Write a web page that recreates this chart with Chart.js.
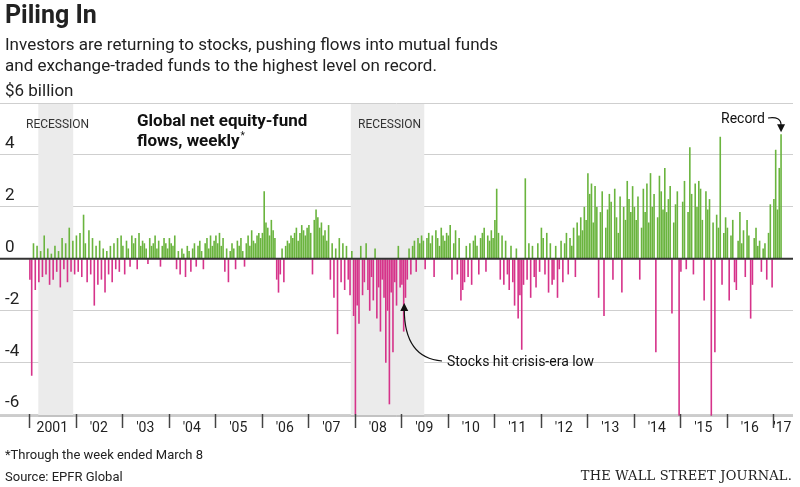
<!DOCTYPE html>
<html>
<head>
<meta charset="utf-8">
<script src="https://cdn.jsdelivr.net/npm/chart.js@4/dist/chart.umd.min.js"></script>
<style>
  body { margin: 0; background: #fff; font-family: 'Liberation Sans Narrow', 'Roboto', sans-serif; color: #222; }
  #wrap { position: relative; width: 800px; height: 487px; }
  canvas { position: absolute; left: 0; top: 0; }
  .t { position: absolute; left: 5px; white-space: nowrap; }
  #title { top: 0; font-size: 25px; font-weight: bold; }
  #sub { top: 34px; font-size: 17px; line-height: 21px; }
  #note { top: 447px; font-size: 13px; }
  #src { top: 469px; font-size: 13px; }
  #wsj { position: absolute; right: 8px; top: 468px; font-family: 'DejaVu Serif', 'Liberation Serif', serif; font-size: 13px; letter-spacing: 0.2px; }
</style>
</head>
<body>
<div id="wrap">
  <canvas id="chart" width="800" height="487"></canvas>
  <div class="t" id="title">Piling In</div>
  <div class="t" id="sub">Investors are returning to stocks, pushing flows into mutual funds<br>and exchange-traded funds to the highest level on record.</div>
  <div class="t" id="note">*Through the week ended March 8</div>
  <div class="t" id="src">Source: EPFR Global</div>
  <div id="wsj">THE WALL STREET JOURNAL.</div>
</div>
<script>
// flows, $ billion, two readings per month-ish (26 per year)
const y2001 = [-0.8,-4.5,0.6,-1.2,0.5,-0.9,0.3,-0.7,0.9,-0.6,0.4,-1.0,0.2,-0.8,0.5,-0.5,0.3,-1.1,0.8,-0.4,0.6,-0.9,1.2,-0.5,0.7,-0.6];
const y2002 = [0.9,-0.5,1.0,-0.7,1.7,0.6,-0.9,1.1,-0.6,0.8,-1.8,0.5,-1.0,0.7,-0.8,0.4,-1.3,0.3,-0.6,0.5,-0.9,0.6,-0.4,0.8,-0.5,0.9];
const y2003 = [0.5,-0.6,0.7,0.4,-0.3,0.9,0.6,0.8,-0.4,1.0,0.5,0.7,0.6,0.4,-0.2,0.8,0.5,0.6,0.9,0.4,0.7,-0.3,0.5,0.8,0.6,0.4];
const y2004 = [0.8,0.6,0.5,0.9,-0.4,0.3,-0.6,0.4,0.2,-0.7,0.5,0.3,-0.5,0.4,0.6,-0.3,0.5,0.7,0.3,-0.4,0.6,0.8,0.4,0.9,0.5,0.7];
const y2005 = [0.9,0.6,1.0,0.5,0.8,-0.5,0.4,-0.9,0.3,0.6,0.4,-0.4,0.7,0.5,0.8,0.3,-0.3,0.6,0.9,0.5,1.1,0.7,0.6,0.9,1.0,0.8];
const y2006 = [1.0,2.6,1.4,1.2,0.9,1.5,1.1,0.8,-0.8,-1.3,-0.6,0.4,-0.9,0.5,0.7,0.6,0.9,0.8,1.0,1.2,0.7,1.0,1.3,1.1,0.9,1.2];
const y2007 = [1.3,1.0,-0.6,1.5,1.9,1.6,1.2,1.4,0.9,1.1,0.7,1.3,-0.8,0.6,-1.5,0.4,-2.9,0.8,-0.9,0.6,-1.2,0.5,-0.8,-1.4,0.3,-2.2];
const y2008 = [-6.0,-1.8,-2.5,0.5,-1.4,-0.9,0.6,-1.2,-2.0,-0.7,-1.6,0.4,-2.3,-1.1,-2.8,-0.8,-1.5,-4.0,-2.0,-5.6,-1.3,-3.6,-0.9,-1.8,0.5,-1.1];
const y2009 = [-1.0,-2.8,-1.5,-0.8,0.4,-0.6,0.5,0.7,-0.5,0.8,0.6,0.9,0.7,-0.4,0.8,1.0,0.6,0.9,-0.7,1.1,0.8,0.5,1.2,0.9,0.7,1.0];
const y2010 = [0.9,1.3,-0.8,0.6,1.1,-0.6,0.8,-1.6,-1.2,-0.9,0.5,-0.7,0.6,-1.0,0.7,0.9,0.5,-0.6,0.8,1.0,1.2,-0.5,0.9,0.7,1.1,0.8];
const y2011 = [1.5,2.7,1.0,-0.8,0.9,-1.0,0.7,-0.6,-1.2,0.5,-0.9,-1.8,0.4,-2.3,-1.4,-3.5,-1.0,3.1,-0.8,0.6,-1.5,0.5,-0.7,-1.1,0.6,-0.5];
const y2012 = [1.2,0.8,-0.6,1.0,-1.3,0.6,-1.0,-0.8,0.5,-1.5,-0.4,0.7,-0.9,0.6,1.0,-0.6,0.8,0.5,1.2,-0.7,1.4,0.9,1.6,1.1,2.0,1.5];
const y2013 = [3.3,2.5,2.9,1.4,2.8,2.0,-1.5,1.8,2.6,-2.2,1.2,1.9,2.5,2.2,-0.8,2.7,1.6,1.0,2.4,-1.3,2.0,1.5,3.0,2.3,1.8,2.8];
const y2014 = [2.0,1.5,2.4,-0.8,1.2,2.7,1.8,2.9,1.4,3.3,2.0,2.5,-3.6,1.6,3.2,2.6,1.9,3.5,1.8,2.3,2.8,-2.1,1.4,2.1,2.6,-6.2];
const y2015 = [-0.5,2.2,3.0,-0.4,1.8,4.3,2.5,-0.6,2.9,2.0,3.0,2.7,1.5,-1.6,2.6,1.9,2.3,-6.2,1.4,-3.6,1.7,1.2,4.7,-1.0,1.0,1.6];
const y2016 = [1.2,-1.6,0.9,1.5,-0.9,-1.2,0.7,1.8,0.6,1.1,-0.7,1.5,0.9,-2.3,-1.0,0.8,1.2,0.5,0.7,-0.5,0.4,0.6,-0.8,1.0,2.1,-1.1];
const y2017 = [2.3,4.2,1.9,3.5,4.8];

const years = [2001,2002,2003,2004,2005,2006,2007,2008,2009,2010,2011,2012,2013,2014,2015,2016,2017];
const yearData = [y2001,y2002,y2003,y2004,y2005,y2006,y2007,y2008,y2009,y2010,y2011,y2012,y2013,y2014,y2015,y2016,y2017];
const yearLabels = ['2001',"'02","'03","'04","'05","'06","'07","'08","'09","'10","'11","'12","'13","'14","'15","'16","'17"];
const recessions = [[2001.2, 2001.95], [2007.92, 2009.5]];
const yTicks = [-6,-4,-2,0,2,4,6];
const yTickLabels = ['-6','-4','-2','0','2','4','$6 billion'];

const points = [];
years.forEach((yr, k) => {
  yearData[k].forEach((v, i) => points.push({ x: yr + (i + 0.5) / 26, y: v }));
});

const GREEN = '#6ab43e', PINK = '#d6338a';
const FONT = '"Liberation Sans Narrow", Roboto, sans-serif';

const overlay = {
  id: 'overlay',
  beforeDatasetsDraw(chart) {
    const { ctx, scales: { x, y } } = chart;
    ctx.save();
    ctx.fillStyle = '#ebebeb';
    recessions.forEach(([s, e]) => {
      const x0 = x.getPixelForValue(s), x1 = x.getPixelForValue(e);
      ctx.fillRect(x0, y.getPixelForValue(6) + 1, x1 - x0, y.getPixelForValue(-6.05) - y.getPixelForValue(6));
    });
    ctx.restore();
  },
  afterDatasetsDraw(chart) {
    const { ctx, chartArea: a, scales: { x, y } } = chart;
    ctx.save();
    // y labels, above their gridlines
    ctx.fillStyle = '#222'; ctx.font = '17px ' + FONT;
    ctx.textAlign = 'left'; ctx.textBaseline = 'bottom';
    yTicks.forEach((v, i) => ctx.fillText(yTickLabels[i], 5, y.getPixelForValue(v) - 3));
    // zero line
    ctx.strokeStyle = '#333'; ctx.lineWidth = 2;
    ctx.beginPath(); ctx.moveTo(a.left, y.getPixelForValue(0)); ctx.lineTo(a.right, y.getPixelForValue(0)); ctx.stroke();
    // bottom axis and year ticks
    const yb = a.bottom;
    ctx.strokeStyle = '#999'; ctx.lineWidth = 1;
    ctx.beginPath(); ctx.moveTo(a.left, yb); ctx.lineTo(a.right, yb); ctx.stroke();
    ctx.strokeStyle = '#444'; ctx.lineWidth = 1.5;
    years.forEach(yr => {
      const px = Math.round(x.getPixelForValue(yr)) + 0.5;
      ctx.beginPath(); ctx.moveTo(px, yb - 2); ctx.lineTo(px, yb + 12); ctx.stroke();
    });
    ctx.fillStyle = '#222'; ctx.font = '14px ' + FONT;
    ctx.textAlign = 'center'; ctx.textBaseline = 'top';
    years.forEach((yr, k) => {
      const c = yr === 2017 ? 2017.2 : yr + 0.5;
      ctx.fillText(yearLabels[k], x.getPixelForValue(c), yb + 5);
    });
    // recession labels
    ctx.textAlign = 'left'; ctx.textBaseline = 'alphabetic';
    ctx.fillStyle = '#333'; ctx.font = '12px ' + FONT;
    ctx.fillText('RECESSION', 26, 128);
    ctx.fillText('RECESSION', 358, 128);
    // chart label
    ctx.fillStyle = '#111'; ctx.font = 'bold 17px ' + FONT;
    ctx.fillText('Global net equity-fund', 137, 126);
    ctx.fillText('flows, weekly', 137, 146);
    const w = ctx.measureText('flows, weekly').width;
    ctx.font = '10px ' + FONT;
    ctx.fillText('*', 137 + w + 1, 139);
    // crisis-era low annotation
    ctx.font = '14px ' + FONT;
    ctx.fillText('Stocks hit crisis-era low', 447, 366);
    const tx = x.getPixelForValue(2009.07), ty = y.getPixelForValue(-1.7);
    ctx.strokeStyle = '#111'; ctx.lineWidth = 1.2;
    ctx.beginPath(); ctx.moveTo(442, 361); ctx.quadraticCurveTo(tx, 358, tx, ty + 6); ctx.stroke();
    ctx.fillStyle = '#111';
    ctx.beginPath(); ctx.moveTo(tx, ty); ctx.lineTo(tx - 4, ty + 8); ctx.lineTo(tx + 4, ty + 8); ctx.closePath(); ctx.fill();
    // record annotation
    ctx.fillText('Record', 721, 123);
    const rx = x.getPixelForValue(2017 + 4.5 / 26), ry = y.getPixelForValue(4.8) - 2;
    ctx.beginPath(); ctx.moveTo(768, 118); ctx.quadraticCurveTo(rx, 116, rx, ry - 7); ctx.stroke();
    ctx.beginPath(); ctx.moveTo(rx, ry); ctx.lineTo(rx - 4, ry - 8); ctx.lineTo(rx + 4, ry - 8); ctx.closePath(); ctx.fill();
    ctx.restore();
  }
};

new Chart(document.getElementById('chart'), {
  type: 'bar',
  data: {
    datasets: [{
      data: points,
      backgroundColor: points.map(p => p.y >= 0 ? GREEN : PINK),
      barPercentage: 0.9,
      categoryPercentage: 1
    }]
  },
  options: {
    responsive: false,
    animation: false,
    layout: { padding: { top: 103, bottom: 71, left: 0, right: 7 } },
    plugins: { legend: { display: false }, tooltip: { enabled: false } },
    scales: {
      x: { type: 'linear', display: false, offset: false, min: 2000.376, max: 2017.43 },
      y: {
        min: -6.05, max: 6,
        afterBuildTicks: s => { s.ticks = yTicks.map(v => ({ value: v })); },
        grid: { color: '#cfcfcf', drawTicks: false },
        border: { display: false },
        ticks: { display: false }
      }
    }
  },
  plugins: [overlay]
});
</script>
</body>
</html>
